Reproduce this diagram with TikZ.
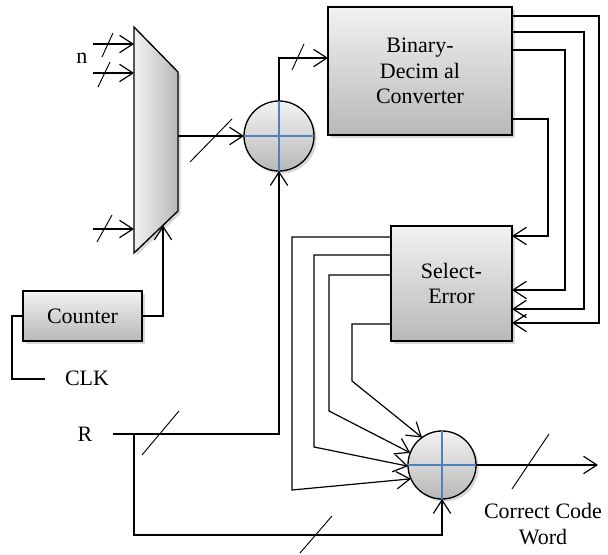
\documentclass[tikz,border=0pt]{standalone}
\usepackage{fontspec}
\setmainfont{Liberation Serif}
\usetikzlibrary{arrows.meta,calc,shadows}
\definecolor{boxtop}{RGB}{242,242,242}
\definecolor{boxbot}{RGB}{184,184,184}
\definecolor{crossblue}{RGB}{79,129,189}
\begin{document}
\begin{tikzpicture}[x=0.75pt,y=-0.75pt,
  font=\fontsize{16.5}{19}\selectfont,
  wire/.style={line width=0.9pt},
  arr/.style={wire,-{Straight Barb[length=10pt,width=13pt]}},
  slash/.style={line width=0.7pt},
  shade/.style={top color=boxtop,bottom color=boxbot,
    drop shadow={opacity=0.3,shadow xshift=2pt,shadow yshift=-2pt}},
  block/.style={draw,line width=1pt,shade,align=center,inner sep=0pt,outer sep=0pt},
  adder/.style={circle,draw,line width=1pt,shade,inner sep=0pt,outer sep=0pt},
  lbl/.style={inner sep=0pt,align=center}]
\useasboundingbox (0,0) rectangle (608,555);

% blocks
\node[block,minimum width=138pt,minimum height=96pt] (conv) at (420,71)
  {Binary-\\Decim al\\Converter};
\node[block,minimum width=90.75pt,minimum height=86.25pt] (sel) at (451.5,283.5)
  {Select-\\Error};
\node[block,minimum width=89.25pt,minimum height=37.5pt] (cnt) at (82.5,316)
  {Counter};
\node[adder,minimum size=52.5pt] (c1) at (279,136) {};
\node[adder,minimum size=51pt] (c2) at (442,465) {};
\foreach \c in {c1,c2}{
  \draw[crossblue,line width=0.8pt] (\c.west) -- (\c.east);
  \draw[crossblue,line width=0.8pt] (\c.north) -- (\c.south);
}

% multiplexer
\draw[line width=1pt,left color=boxtop,right color=boxbot,
  drop shadow={opacity=0.3,shadow xshift=2pt,shadow yshift=-2pt}]
  (134,27) -- (178,72) -- (178,211) -- (134,253) -- cycle;
\coordinate (mi1) at (134,44);
\coordinate (mi2) at (134,73);
\coordinate (mi3) at (134,229);
\coordinate (mo) at (178,136);
\coordinate (msel) at (163,225.5);

% labels
\node[lbl] (n) at (82,58) {n};
\node[lbl] (clk) at (87,378) {CLK};
\node[lbl] (r) at (85,434) {R};
\node[lbl] (ccw) at (543,524) {Correct Code\\Word};

% mux inputs
\foreach \m in {mi1,mi2,mi3}
  \draw[arr] ($(\m)+(-41,0)$) -- (\m);
\draw[slash] (102,57) -- (113,33);
\draw[slash] (98,87) -- (110,62);
\draw[slash] (97,242) -- (112,215);

% mux -> adder1
\draw[arr] (mo) -- (c1.west);
\draw[slash] (190,162) -- (232,119);

% counter -> mux select
\draw[arr] (cnt.east) -| (msel);
% CLK
\coordinate (clkend) at (45,379);
\draw[wire] (cnt.west) -- ++(-11,0) |- (clkend);

% adder1 -> converter
\coordinate (cin) at (328,58);
\draw[arr] (c1.north) |- (cin);
\draw[slash] (292,70) -- (304,44);

% R input
\coordinate (rs) at (113,434);
\coordinate (rb) at (134,434);
\draw[arr] (rs) -| (c1.south);
\draw[slash] (142,455) -- (179,411);
\draw[arr] (rb) -- (134,535) -| (c2.south);
\draw[slash] (300,553) -- (332,516);

% converter -> select-error
\draw[arr] ($(conv.north east)+(0,9)$)   -| ($(sel.north east)+(87,97)$) -- ($(sel.north east)+(0,97)$);
\draw[arr] ($(conv.north east)+(0,25)$)  -| ($(sel.north east)+(72,83)$) -- ($(sel.north east)+(0,83)$);
\draw[arr] ($(conv.north east)+(0,43)$)  -| ($(sel.north east)+(53,64)$) -- ($(sel.north east)+(0,64)$);
\draw[arr] ($(conv.north east)+(0,112)$) -| ($(sel.north east)+(36,10)$) -- ($(sel.north east)+(0,10)$);

% select-error -> adder2
\draw[arr] ($(sel.north west)+(0,11)$) -| (292,490) -- (c2.204);
\draw[arr] ($(sel.north west)+(0,29)$) -| (314,447) -- (c2.182);
\draw[arr] ($(sel.north west)+(0,49)$) -| (329,411) -- (c2.159);
\draw[arr] ($(sel.north west)+(0,98)$) -| (352,381) -- (c2.126);

% output
\coordinate (out) at (598,465);
\draw[arr] (c2.east) -- (out);
\draw[slash] (512,489) -- (549,434);
\end{tikzpicture}
\end{document}
